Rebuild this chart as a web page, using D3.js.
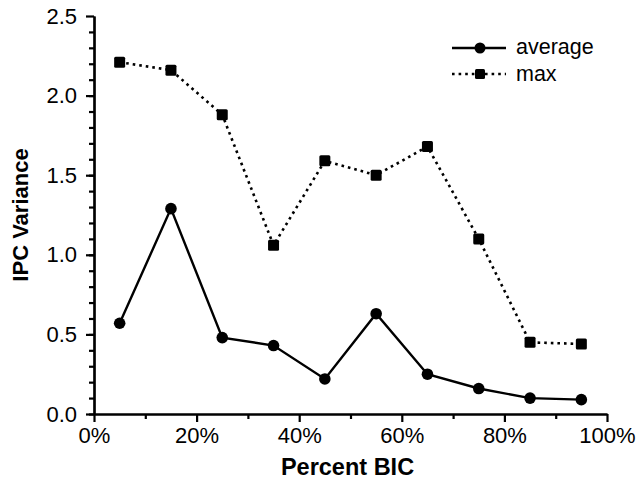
<!DOCTYPE html>
<html>
<head>
<meta charset="utf-8">
<script src="https://cdn.jsdelivr.net/npm/d3@7"></script>
<style>
    body { margin: 0; background: #fff; }
    svg { font-family: 'Liberation Sans', Arial, Helvetica, sans-serif; }
    .axis path, .axis line { stroke: #000; stroke-width: 2.2; }
    .axis text { font-size: 22px; fill: #000; }
    .title { font-weight: bold; }
</style>
</head>
<body>
<div id="vis"></div>
<script>
// percent BIC (bin centres)
var percentBIC = [5, 15, 25, 35, 45, 55, 65, 75, 85, 95];
var averageVar = [0.57, 1.29, 0.48, 0.43, 0.22, 0.63, 0.25, 0.16, 0.10, 0.09];
var maxVar = [2.21, 2.16, 1.88, 1.06, 1.59, 1.50, 1.68, 1.10, 0.45, 0.44];
var xTicks = [0, 20, 40, 60, 80, 100];
var yTicks = [0, 0.5, 1.0, 1.5, 2.0, 2.5];

var width = 637;
var height = 483;
var margin = { left: 94, top: 16, right: 30, bottom: 69 };
var drawWidth = width - margin.left - margin.right;
var drawHeight = height - margin.top - margin.bottom;

var svg = d3.select('#vis')
    .append('svg')
    .attr('width', width)
    .attr('height', height);

var g = svg.append('g')
    .attr('transform', 'translate(' + margin.left + ',' + margin.top + ')');

var xScale = d3.scaleLinear().domain([0, 100]).range([0, drawWidth]);
var yScale = d3.scaleLinear().domain([0, 2.5]).range([drawHeight, 0]);

// minor ticks first, no labels
g.append('g')
    .attr('class', 'axis')
    .attr('transform', 'translate(0,' + drawHeight + ')')
    .call(d3.axisBottom(xScale).tickValues(d3.range(10, 100, 20)).tickSize(5).tickSizeOuter(0).tickFormat(''));
g.append('g')
    .attr('class', 'axis')
    .call(d3.axisLeft(yScale).tickValues(d3.range(0, 2.5, 0.1)).tickSize(5).tickSizeOuter(0).tickFormat(''));

var xAxis = g.append('g')
    .attr('class', 'axis')
    .attr('transform', 'translate(0,' + drawHeight + ')')
    .call(d3.axisBottom(xScale).tickValues(xTicks).tickSize(8).tickSizeOuter(0).tickPadding(5)
        .tickFormat(d => d + '%'));

var yAxis = g.append('g')
    .attr('class', 'axis')
    .call(d3.axisLeft(yScale).tickValues(yTicks).tickSize(8).tickSizeOuter(0).tickPadding(9)
        .tickFormat(d3.format('.1f')));

svg.selectAll('.axis text').attr('font-family', null);
svg.selectAll('.axis').attr('font-size', null);

svg.append('text')
    .attr('class', 'title')
    .attr('x', margin.left + drawWidth / 2 - 3)
    .attr('y', 475)
    .attr('text-anchor', 'middle')
    .style('font-size', '23.5px')
    .text('Percent BIC');

svg.append('text')
    .attr('class', 'title')
    .attr('transform', 'translate(28,' + (margin.top + drawHeight / 2) + ') rotate(-90)')
    .attr('text-anchor', 'middle')
    .style('font-size', '22px')
    .text('IPC Variance');

var line = d3.line()
    .x(d => xScale(d[0]))
    .y(d => yScale(d[1]));

var avgData = percentBIC.map((p, i) => [p, averageVar[i]]);
var maxData = percentBIC.map((p, i) => [p, maxVar[i]]);

g.append('path')
    .datum(maxData)
    .attr('d', line)
    .attr('fill', 'none')
    .attr('stroke', '#000')
    .attr('stroke-width', 2.6)
    .attr('stroke-dasharray', '2.6,4');

g.append('path')
    .datum(avgData)
    .attr('d', line)
    .attr('fill', 'none')
    .attr('stroke', '#000')
    .attr('stroke-width', 2.4);

g.selectAll('.sq')
    .data(maxData)
    .enter().append('rect')
    .attr('class', 'sq')
    .attr('x', d => xScale(d[0]) - 5.5)
    .attr('y', d => yScale(d[1]) - 5.5)
    .attr('width', 11)
    .attr('height', 11)
    .attr('rx', 1.5)
    .attr('fill', '#000');

g.selectAll('.dot')
    .data(avgData)
    .enter().append('circle')
    .attr('class', 'dot')
    .attr('cx', d => xScale(d[0]))
    .attr('cy', d => yScale(d[1]))
    .attr('r', 5.8)
    .attr('fill', '#000');

// legend
var legend = svg.append('g').attr('transform', 'translate(452,48)');
legend.append('line')
    .attr('x1', 0).attr('x2', 54).attr('y1', 0).attr('y2', 0)
    .attr('stroke', '#000').attr('stroke-width', 2.4);
legend.append('circle').attr('cx', 28).attr('cy', 0).attr('r', 5.5).attr('fill', '#000');
legend.append('text').attr('x', 64).attr('y', 6).style('font-size', '21.5px').text('average');

legend.append('line')
    .attr('x1', 0).attr('x2', 54).attr('y1', 26).attr('y2', 26)
    .attr('stroke', '#000').attr('stroke-width', 2.6).attr('stroke-dasharray', '2.6,4');
legend.append('rect').attr('x', 23).attr('y', 21).attr('width', 10).attr('height', 10).attr('rx', 1.5).attr('fill', '#000');
legend.append('text').attr('x', 64).attr('y', 33).style('font-size', '21.5px').text('max');
</script>
</body>
</html>
